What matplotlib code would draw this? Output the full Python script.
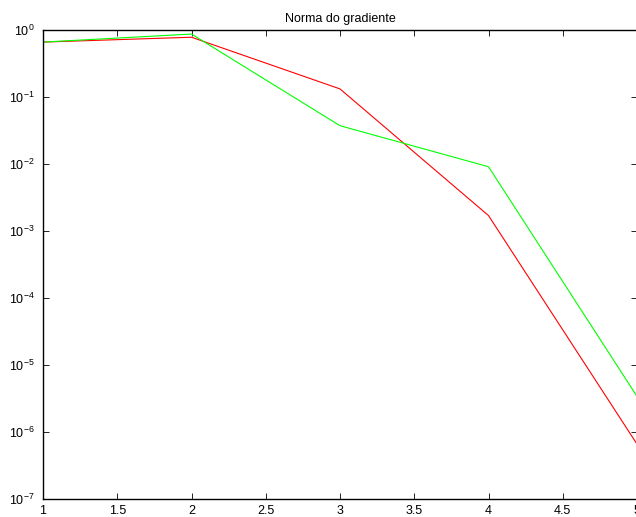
import numpy as np
import matplotlib
matplotlib.use("Agg")
import matplotlib.pyplot as plt
from matplotlib.ticker import LogLocator, NullLocator

plt.rcParams["font.family"] = ["Liberation Sans", "DejaVu Sans"]
plt.rcParams["mathtext.default"] = "regular"
plt.rcParams["axes.unicode_minus"] = False
plt.rcParams["font.size"] = 9

# gradient norm per iteration for the two methods
iters = [1, 2, 3, 4, 5]
grad_red = [0.66, 0.78, 0.132, 0.0017, 6.6e-7]
grad_green = [0.66, 0.87, 0.0373, 0.0091, 3.4e-6]

fig = plt.figure(figsize=(6.36, 5.17), dpi=100)
ax = fig.add_axes([43 / 636, 18 / 517, 594 / 636, 469 / 517])

ax.plot(iters, grad_red, color=(1, 0, 0), lw=0.8)
ax.plot(iters, grad_green, color=(0, 1, 0), lw=0.8)

ax.set_yscale("log")
ax.set_xlim(1, 5)
ax.set_ylim(1e-7, 1)
ax.set_xticks(np.arange(1, 5.01, 0.5))
ax.set_xticklabels(["1", "1.5", "2", "2.5", "3", "3.5", "4", "4.5", "5"])
ax.yaxis.set_major_locator(LogLocator(base=10, numticks=10))
ax.yaxis.set_minor_locator(NullLocator())

ax.tick_params(direction="in", top=True, right=True, length=4, width=0.6,
               labelsize=9)
ax.tick_params(axis="x", pad=4)
ax.tick_params(axis="y", pad=6)
for s in ax.spines.values():
    s.set_linewidth(1.0)

ax.set_title("Norma do gradiente", fontsize=9, pad=6)

fig.savefig("out.png", dpi=100)
